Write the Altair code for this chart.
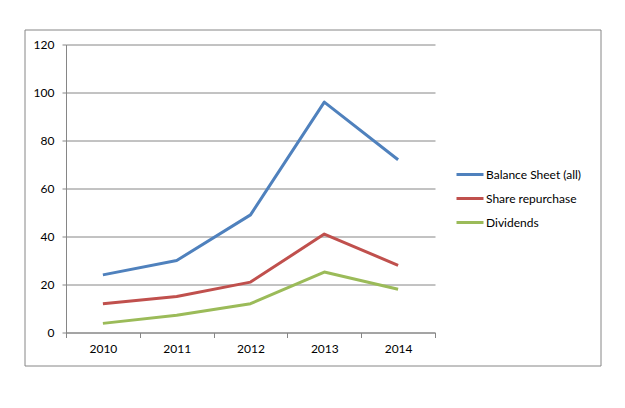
import altair as alt
import pandas as pd

years = ["2010", "2011", "2012", "2013", "2014"]
series_names = ["Balance Sheet (all)", "Share repurchase", "Dividends"]
balance_sheet = [24, 30, 49, 96, 72]
share_repurchase = [12, 15, 21, 41, 28]
dividends = [3.8, 7.2, 12, 25.2, 18]
colors = ["#4F81BD", "#C0504D", "#9BBB59"]

rows = []
for name, vals in zip(series_names, [balance_sheet, share_repurchase, dividends]):
    for y, v in zip(years, vals):
        rows.append({"Year": y, "Series": name, "Value": v})
df = pd.DataFrame(rows)

FONT = "Lato"
GRID = "#868686"

border = alt.Chart(pd.DataFrame({"a": [0]})).mark_rect(
    fill="transparent", stroke=GRID, strokeWidth=1
).encode(
    x=alt.value(-41), x2=alt.value(535), y=alt.value(-14.5), y2=alt.value(321.5)
)

lines = alt.Chart(df).mark_line(strokeWidth=3, strokeJoin="round").encode(
    x=alt.X("Year:O", sort=years,
            scale=alt.Scale(paddingInner=0, paddingOuter=0),
            axis=alt.Axis(title=None, labelAngle=0, tickBand="extent", tickSize=5,
                          tickColor=GRID, domainColor=GRID, labelPadding=6,
                          labelFont=FONT, labelFontSize=12, labelColor="#000000", grid=False)),
    y=alt.Y("Value:Q", scale=alt.Scale(domain=[0, 120], nice=False),
            axis=alt.Axis(title=None, values=[0, 20, 40, 60, 80, 100, 120], tickSize=4,
                          tickColor=GRID, domainColor=GRID, gridColor=GRID, grid=True,
                          labelPadding=8, labelFont=FONT, labelFontSize=12,
                          labelColor="#000000")),
    color=alt.Color("Series:N", sort=series_names,
                    scale=alt.Scale(domain=series_names, range=colors),
                    legend=alt.Legend(title=None, orient="none", legendX=389, legendY=115,
                                      symbolType="stroke", symbolSize=729,
                                      symbolStrokeWidth=3, labelOffset=1, rowPadding=3,
                                      labelFont=FONT, labelFontSize=12,
                                      labelColor="#000000")),
)

chart = alt.layer(border, lines).properties(
    width=369, height=288,
    autosize=alt.AutoSizeParams(type="none"),
    padding={"left": 58, "top": 36.5, "right": 170, "bottom": 60},
).configure_view(stroke=None)

chart.save("out.html", embed_options={"renderer": "svg", "actions": False})
